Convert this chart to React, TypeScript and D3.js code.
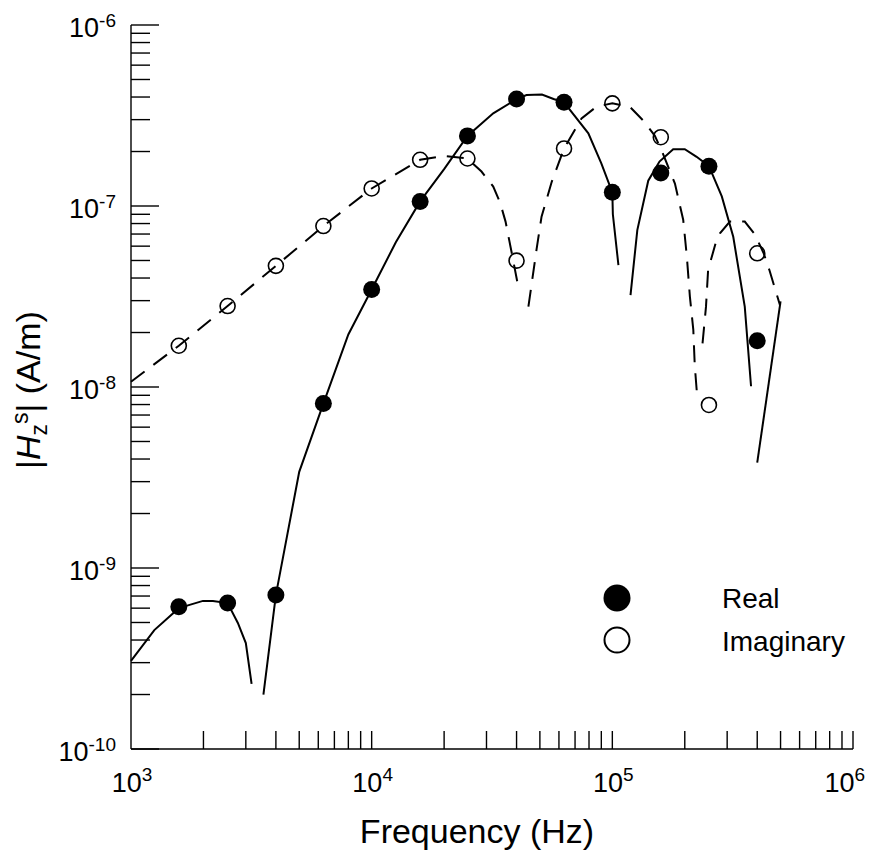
import React, { useRef, useEffect } from 'react';
import * as d3 from 'd3';

// measured values (frequency in Hz, |Hz^s| in A/m)
const pointFreq = [1.58e3, 2.52e3, 4.0e3, 6.3e3, 1.0e4, 1.59e4, 2.5e4, 4.0e4, 6.3e4, 1.0e5, 1.59e5, 2.52e5, 4.0e5];
const realValues = [6.1e-10, 6.4e-10, 7.1e-10, 8.1e-9, 3.46e-8, 1.06e-7, 2.44e-7, 3.9e-7, 3.74e-7, 1.19e-7, 1.52e-7, 1.66e-7, 1.8e-8];
const imagValues = [1.69e-8, 2.8e-8, 4.67e-8, 7.75e-8, 1.25e-7, 1.8e-7, 1.83e-7, 4.99e-8, 2.08e-7, 3.69e-7, 2.4e-7, 7.96e-9, 5.48e-8];

// modelled curves, broken into pieces where the magnitude dips
const realCurve: [number, number][][] = [
  [[1.0e3, 3.07e-10], [1.25e3, 4.54e-10], [1.58e3, 6.0e-10], [1.99e3, 6.58e-10], [2.19e3, 6.58e-10],
    [2.52e3, 6.4e-10], [2.78e3, 4.97e-10], [3.0e3, 3.85e-10], [3.17e3, 2.29e-10]],
  [[3.55e3, 2.0e-10], [4.0e3, 7.1e-10], [5.0e3, 3.4e-9], [6.3e3, 8.1e-9], [8.0e3, 1.95e-8], [1.0e4, 3.46e-8],
    [1.26e4, 6.3e-8], [1.59e4, 1.06e-7], [2.0e4, 1.6e-7], [2.5e4, 2.44e-7], [3.2e4, 3.25e-7], [4.0e4, 3.9e-7],
    [4.4e4, 4.1e-7], [5.1e4, 4.13e-7], [5.7e4, 3.9e-7], [6.3e4, 3.74e-7], [7.95e4, 2.52e-7], [9.0e4, 1.72e-7],
    [1.0e5, 1.19e-7], [1.005e5, 9.0e-8], [1.06e5, 4.72e-8]],
  [[1.19e5, 3.22e-8], [1.27e5, 7.36e-8], [1.41e5, 1.38e-7], [1.57e5, 1.76e-7], [1.79e5, 2.06e-7], [2.0e5, 2.06e-7],
    [2.24e5, 1.87e-7], [2.52e5, 1.66e-7], [2.85e5, 1.13e-7], [3.18e5, 6.76e-8], [3.55e5, 2.78e-8], [3.77e5, 1.01e-8]],
  [[4.0e5, 3.82e-9], [5.0e5, 2.97e-8]],
];

const imagCurve: [number, number][][] = [
  [[1.0e3, 1.07e-8], [1.58e3, 1.69e-8], [2.52e3, 2.8e-8], [4.0e3, 4.67e-8], [6.3e3, 7.75e-8], [1.0e4, 1.25e-7],
    [1.59e4, 1.8e-7], [2.0e4, 1.89e-7], [2.5e4, 1.83e-7], [2.86e4, 1.55e-7], [3.2e4, 1.28e-7], [3.42e4, 1.04e-7],
    [3.6e4, 8.2e-8], [3.82e4, 5.5e-8], [4.03e4, 3.8e-8]],
  [[4.48e4, 2.78e-8], [4.85e4, 5.83e-8], [5.08e4, 8.73e-8], [5.6e4, 1.36e-7], [6.3e4, 2.08e-7], [7.45e4, 3.05e-7],
    [8.6e4, 3.54e-7], [1.0e5, 3.69e-7], [1.18e5, 3.54e-7], [1.34e5, 2.98e-7], [1.5e5, 2.45e-7], [1.6e5, 2.04e-7],
    [1.82e5, 1.33e-7], [1.97e5, 8.4e-8], [2.04e5, 5.25e-8], [2.1e5, 3.16e-8], [2.17e5, 2.07e-8], [2.2e5, 1.32e-8],
    [2.25e5, 9.0e-9]],
  [[2.37e5, 1.74e-8], [2.45e5, 2.78e-8], [2.5e5, 4.43e-8], [2.71e5, 6.5e-8], [2.8e5, 7.07e-8], [3.08e5, 8.2e-8],
    [3.55e5, 8.2e-8], [3.9e5, 7.0e-8], [4.25e5, 5.5e-8], [4.5e5, 4.4e-8], [4.97e5, 2.84e-8]],
];

const xTickExponents = [3, 4, 5, 6];
const yTickExponents = [-10, -9, -8, -7, -6];
const legendLabels = ['Real', 'Imaginary'];

const FONT = '"Liberation Sans", Arial, Helvetica, sans-serif';

const App = () => {
  const svgRef = useRef<SVGSVGElement>(null);

  useEffect(() => {
    const svg = d3.select(svgRef.current);
    svg.selectAll('*').remove();

    const left = 131, right = 853, top = 25, bottom = 749;

    const x = d3.scaleLog().domain([1e3, 1e6]).range([left, right]);
    const y = d3.scaleLog().domain([1e-10, 1e-6]).range([bottom, top]);

    const g = svg.append('g');

    // axes lines
    g.append('line').attr('x1', left).attr('x2', left).attr('y1', top).attr('y2', bottom)
      .attr('stroke', '#000').attr('stroke-width', 1.4);
    g.append('line').attr('x1', left).attr('x2', right).attr('y1', bottom).attr('y2', bottom)
      .attr('stroke', '#000').attr('stroke-width', 1.4);

    // y ticks (inward, to the right)
    const yTicks = y.ticks();
    g.append('g').selectAll('line').data(yTicks).join('line')
      .attr('x1', left)
      .attr('x2', d => left + (Math.abs(Math.log10(d) - Math.round(Math.log10(d))) < 1e-6 ? 28 : 19))
      .attr('y1', d => y(d)).attr('y2', d => y(d))
      .attr('stroke', '#000').attr('stroke-width', 1.4);

    // x ticks (inward, upward)
    const xTicks = x.ticks().filter(d => d > 1e3);
    g.append('g').selectAll('line').data(xTicks).join('line')
      .attr('x1', d => x(d)).attr('x2', d => x(d))
      .attr('y1', bottom).attr('y2', bottom - 18)
      .attr('stroke', '#000').attr('stroke-width', 1.4);

    // y tick labels
    const yl = g.append('g').attr('font-family', FONT).attr('fill', '#000');
    yTickExponents.forEach(e => {
      const t = yl.append('text').attr('x', 116).attr('y', y(Math.pow(10, e)) + 12)
        .attr('text-anchor', 'end').attr('font-size', 27);
      t.append('tspan').text('10');
      t.append('tspan').attr('font-size', 19).attr('dy', -10).text(String(e));
    });

    // x tick labels (the last one is pulled in so it stays on the page)
    xTickExponents.forEach((e, i) => {
      const last = i === xTickExponents.length - 1;
      const t = yl.append('text')
        .attr('x', last ? x(Math.pow(10, e)) + 12 : x(Math.pow(10, e)) + 1)
        .attr('y', 792)
        .attr('text-anchor', last ? 'end' : 'middle').attr('font-size', 27);
      t.append('tspan').text('10');
      t.append('tspan').attr('font-size', 19).attr('dy', -11).text(String(e));
    });

    // axis titles
    g.append('text').attr('x', 477).attr('y', 843).attr('text-anchor', 'middle')
      .attr('font-family', FONT).attr('font-size', 34).text('Frequency (Hz)');

    const yt = g.append('text').attr('transform', 'translate(40,390) rotate(-90)')
      .attr('text-anchor', 'middle').attr('font-family', FONT).attr('font-size', 34);
    yt.append('tspan').text('|');
    yt.append('tspan').attr('font-style', 'italic').text('H');
    yt.append('tspan').attr('font-size', 23).attr('dy', 7).text('z');
    yt.append('tspan').attr('font-size', 23).attr('dy', -19).text('s');
    yt.append('tspan').attr('dy', 12).text('| (A/m)');

    const line = d3.line<[number, number]>().x(d => x(d[0])).y(d => y(d[1]));

    // curves
    g.append('g').selectAll('path').data(realCurve).join('path')
      .attr('d', d => line(d))
      .attr('fill', 'none').attr('stroke', '#000').attr('stroke-width', 2);

    g.append('g').selectAll('path').data(imagCurve).join('path')
      .attr('d', d => line(d))
      .attr('fill', 'none').attr('stroke', '#000').attr('stroke-width', 2)
      .attr('stroke-dasharray', '17,11');

    // markers
    g.append('g').selectAll('circle').data(pointFreq).join('circle')
      .attr('cx', d => x(d)).attr('cy', (d, i) => y(imagValues[i]))
      .attr('r', 7.5).attr('fill', 'none').attr('stroke', '#000').attr('stroke-width', 1.6);

    g.append('g').selectAll('circle').data(pointFreq).join('circle')
      .attr('cx', d => x(d)).attr('cy', (d, i) => y(realValues[i]))
      .attr('r', 8.5).attr('fill', '#000');

    // legend
    const lg = g.append('g').attr('font-family', FONT);
    lg.append('circle').attr('cx', 617).attr('cy', 598).attr('r', 13.5).attr('fill', '#000');
    lg.append('circle').attr('cx', 617).attr('cy', 640).attr('r', 12.5)
      .attr('fill', 'none').attr('stroke', '#000').attr('stroke-width', 2);
    lg.selectAll('text').data(legendLabels).join('text')
      .attr('x', 722).attr('y', (d, i) => 608 + i * 42.5)
      .attr('font-size', 28).text(d => d);
  }, []);

  return (
    <svg ref={svgRef} width={871} height={852}
      style={{ position: 'absolute', left: 0, top: 0, background: '#fff' }} />
  );
};

export default App;
